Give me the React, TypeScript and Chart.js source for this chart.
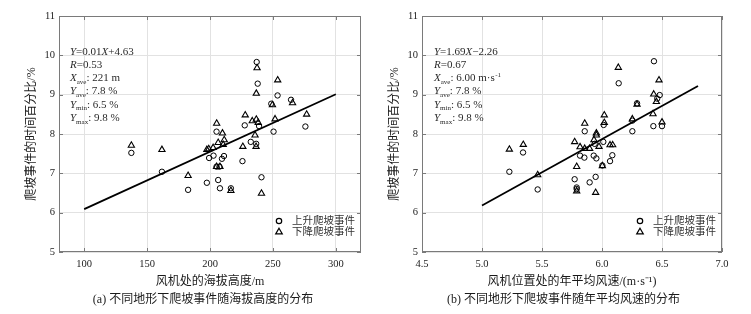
import React, { useEffect, useRef } from 'react';
import { Chart, registerables } from 'chart.js';

Chart.register(...registerables);

const FONT = '"Liberation Serif", "Times New Roman", "Noto Sans CJK SC", serif';

// ---------- Panel (a): altitude ----------
const altTicks = [100, 150, 200, 250, 300];
const altUpX = [237.1, 237.9, 253.7, 264.4, 248.7, 227.6, 239.0, 275.8, 250.5, 205.2, 232.4, 236.7, 137.5, 199.3, 202.8, 209.5, 211.1, 225.8, 161.8, 205.2, 207.5, 240.9, 197.5, 206.5, 207.9, 182.6, 216.6];
const altUpY = [9.83, 9.28, 8.98, 8.87, 8.77, 8.22, 8.2, 8.19, 8.06, 8.06, 7.8, 7.75, 7.52, 7.39, 7.45, 7.37, 7.44, 7.31, 7.04, 7.17, 7.17, 6.9, 6.76, 6.83, 6.62, 6.58, 6.62];
const altDownX = [237.4, 253.8, 236.8, 265.6, 249.6, 228.0, 276.8, 251.7, 205.3, 233.6, 236.8, 238.3, 235.8, 209.9, 137.5, 161.8, 226.1, 236.6, 202.5, 197.5, 199.0, 206.5, 210.5, 211.3, 182.6, 205.2, 207.9, 216.6, 240.9];
const altDownY = [9.68, 9.37, 9.03, 8.79, 8.74, 8.48, 8.5, 8.38, 8.27, 8.33, 8.37, 8.29, 7.97, 8.02, 7.71, 7.6, 7.68, 7.68, 7.65, 7.6, 7.62, 7.78, 7.73, 7.85, 6.94, 7.17, 7.17, 6.56, 6.49];
const altFitX = [100, 300];
const altFitY = [6.09, 9.01];

// ---------- Panel (b): wind speed ----------
const spdTicks = [4.5, 5.0, 5.5, 6.0, 6.5, 7.0];
const spdUpX = [6.433, 6.139, 6.481, 6.46, 6.292, 6.253, 6.014, 6.428, 6.5, 6.253, 5.856, 6.011, 5.939, 5.342, 5.817, 5.931, 5.853, 5.953, 6.086, 6.067, 5.228, 6.003, 5.947, 5.772, 5.897, 5.464, 5.789, 5.789];
const spdUpY = [9.85, 9.29, 8.99, 8.9, 8.78, 8.34, 8.23, 8.2, 8.2, 8.07, 8.07, 7.8, 7.75, 7.53, 7.45, 7.45, 7.4, 7.38, 7.46, 7.31, 7.04, 7.2, 6.91, 6.85, 6.77, 6.59, 6.64, 6.6];
const spdDownX = [6.136, 6.475, 6.431, 6.453, 6.292, 6.019, 6.425, 6.019, 6.5, 5.856, 6.253, 5.953, 5.953, 5.772, 5.344, 5.228, 5.817, 5.856, 5.897, 5.933, 5.975, 6.067, 6.089, 5.464, 5.789, 6.003, 5.789, 5.947];
const spdDownY = [9.69, 9.37, 9.01, 8.82, 8.75, 8.48, 8.51, 8.29, 8.3, 8.27, 8.38, 8.02, 7.97, 7.8, 7.73, 7.61, 7.67, 7.63, 7.63, 7.85, 7.68, 7.72, 7.72, 6.96, 7.17, 7.19, 6.55, 6.51];
const spdFitX = [5.0, 6.8];
const spdFitY = [6.18, 9.22];

const yTicks = [5, 6, 7, 8, 9, 10, 11];
const legendLabels = ['上升爬坡事件', '下降爬坡事件'];
const yTitle = '爬坡事件的时间百分比/%';

type Seg = { t: string; i?: boolean; sub?: string; sup?: string };

const altStats: Seg[][] = [
  [{ t: 'Y', i: true }, { t: '=0.01' }, { t: 'X', i: true }, { t: '+4.63' }],
  [{ t: 'R', i: true }, { t: '=0.53' }],
  [{ t: 'X', i: true, sub: 'ave' }, { t: ': 221 m' }],
  [{ t: 'Y', i: true, sub: 'ave' }, { t: ': 7.8 %' }],
  [{ t: 'Y', i: true, sub: 'min' }, { t: ': 6.5 %' }],
  [{ t: 'Y', i: true, sub: 'max' }, { t: ': 9.8 %' }],
];
const spdStats: Seg[][] = [
  [{ t: 'Y', i: true }, { t: '=1.69' }, { t: 'X', i: true }, { t: '\u22122.26' }],
  [{ t: 'R', i: true }, { t: '=0.67' }],
  [{ t: 'X', i: true, sub: 'ave' }, { t: ': 6.00 m·s', sup: '-1' }],
  [{ t: 'Y', i: true, sub: 'ave' }, { t: ': 7.8 %' }],
  [{ t: 'Y', i: true, sub: 'min' }, { t: ': 6.5 %' }],
  [{ t: 'Y', i: true, sub: 'max' }, { t: ': 9.8 %' }],
];

type Panel = {
  upX: number[]; upY: number[]; downX: number[]; downY: number[];
  fitX: number[]; fitY: number[];
  xTicks: number[]; xMin: number; xMax: number; decimals: number;
  xTitle: string; caption: string; stats: Seg[][];
  yAxisWidth: number; padRight: number; yTitlePad: number; captionShift: number; statsDx: number;
};

const panelA: Panel = {
  upX: altUpX, upY: altUpY, downX: altDownX, downY: altDownY,
  fitX: altFitX, fitY: altFitY,
  xTicks: altTicks, xMin: 80, xMax: 320, decimals: 0,
  xTitle: '风机处的海拔高度/m',
  caption: '(a) 不同地形下爬坡事件随海拔高度的分布',
  stats: altStats,
  yAxisWidth: 59, padRight: 14, yTitlePad: 24.5, captionShift: -7, statsDx: 11,
};
const panelB: Panel = {
  upX: spdUpX, upY: spdUpY, downX: spdDownX, downY: spdDownY,
  fitX: spdFitX, fitY: spdFitY,
  xTicks: spdTicks, xMin: 4.5, xMax: 7.0, decimals: 1,
  xTitle: '风机位置处的年平均风速/(m·s\u207B\u00B9)',
  caption: '(b) 不同地形下爬坡事件随年平均风速的分布',
  stats: spdStats,
  yAxisWidth: 47, padRight: 29, yTitlePad: 12.8, captionShift: -8.5, statsDx: 12,
};

const zip = (xs: number[], ys: number[]) => xs.map((x, i) => ({ x, y: ys[i] }));

function drawMarker(ctx: CanvasRenderingContext2D, kind: string, x: number, y: number) {
  ctx.beginPath();
  if (kind === 'circle') {
    ctx.arc(x, y, 2.7, 0, Math.PI * 2);
  } else {
    const r = 3.8;
    ctx.moveTo(x, y - r);
    ctx.lineTo(x + r * Math.sin((2 * Math.PI) / 3), y - r * Math.cos((2 * Math.PI) / 3));
    ctx.lineTo(x + r * Math.sin((4 * Math.PI) / 3), y - r * Math.cos((4 * Math.PI) / 3));
    ctx.closePath();
  }
  ctx.stroke();
}

function makeDecor(p: Panel) {
  return {
    id: 'decor',
    afterDraw(chart: any) {
      const { ctx, chartArea: a, scales } = chart;
      ctx.save();
      // box
      ctx.strokeStyle = '#7a7a7a';
      ctx.lineWidth = 1;
      ctx.strokeRect(Math.round(a.left) + 0.5, Math.round(a.top) + 0.5, Math.round(a.right - a.left) - 1, Math.round(a.bottom - a.top) - 1);
      // inner ticks
      ctx.beginPath();
      scales.x.ticks.forEach((t: any) => {
        const px = Math.round(scales.x.getPixelForValue(t.value)) + 0.5;
        ctx.moveTo(px, a.bottom); ctx.lineTo(px, a.bottom - 4);
        ctx.moveTo(px, a.top); ctx.lineTo(px, a.top + 4);
      });
      scales.y.ticks.forEach((t: any) => {
        const py = Math.round(scales.y.getPixelForValue(t.value)) + 0.5;
        ctx.moveTo(a.left, py); ctx.lineTo(a.left + 4, py);
        ctx.moveTo(a.right, py); ctx.lineTo(a.right - 4, py);
      });
      ctx.stroke();

      // stats annotation
      ctx.fillStyle = '#2a2a2a';
      ctx.textBaseline = 'alphabetic';
      ctx.textAlign = 'left';
      p.stats.forEach((line, li) => {
        let x = a.left + p.statsDx;
        const y = a.top + 38.5 + li * 13.3;
        line.forEach((s) => {
          ctx.font = `${s.i ? 'italic ' : ''}11px ${FONT}`;
          ctx.fillText(s.t, x, y);
          x += ctx.measureText(s.t).width;
          if (s.sub) {
            ctx.font = `7px ${FONT}`;
            ctx.fillText(s.sub, x, y + 2.5);
            x += ctx.measureText(s.sub).width;
          }
          if (s.sup) {
            ctx.font = `7px ${FONT}`;
            ctx.fillText(s.sup, x + 0.5, y - 4);
            x += ctx.measureText(s.sup).width;
          }
        });
      });

      // legend
      ctx.strokeStyle = '#000';
      ctx.lineWidth = 1.2;
      const lx = a.right - 82;
      const tx = a.right - 69;
      ['circle', 'triangle'].forEach((k, i) => {
        const y = a.bottom - 31 + i * 11;
        drawMarker(ctx, k, lx, y);
        ctx.font = `10.5px ${FONT}`;
        ctx.fillStyle = '#333';
        ctx.textBaseline = 'middle';
        ctx.fillText(legendLabels[i], tx, y);
      });

      // caption
      ctx.font = `12px ${FONT}`;
      ctx.fillStyle = '#1a1a1a';
      ctx.textAlign = 'center';
      ctx.textBaseline = 'middle';
      ctx.fillText(p.caption, (a.left + a.right) / 2 + p.captionShift, 300);
      ctx.restore();
    },
  };
}

function makeConfig(p: Panel): any {
  const tickFont = { family: FONT, size: 10.5 };
  const titleFont = { family: FONT, size: 12 };
  return {
    type: 'scatter',
    data: {
      datasets: [
        {
          label: legendLabels[0],
          data: zip(p.upX, p.upY),
          pointStyle: 'circle',
          pointRadius: 2.7,
          borderColor: '#000',
          backgroundColor: 'rgba(0,0,0,0)',
          borderWidth: 1,
        },
        {
          label: legendLabels[1],
          data: zip(p.downX, p.downY),
          pointStyle: 'triangle',
          pointRadius: 3.6,
          borderColor: '#000',
          backgroundColor: 'rgba(0,0,0,0)',
          borderWidth: 1.1,
        },
        {
          label: 'fit',
          data: zip(p.fitX, p.fitY),
          showLine: true,
          pointRadius: 0,
          borderColor: '#000',
          borderWidth: 1.8,
          fill: false,
        },
      ],
    },
    options: {
      animation: false,
      responsive: false,
      maintainAspectRatio: false,
      events: [],
      layout: { padding: { left: 0, right: p.padRight, top: 16, bottom: 18 } },
      plugins: { legend: { display: false }, tooltip: { enabled: false }, title: { display: false } },
      scales: {
        x: {
          type: 'linear',
          min: p.xMin,
          max: p.xMax,
          afterBuildTicks: (s: any) => { s.ticks = p.xTicks.map((v) => ({ value: v })); },
          afterFit: (s: any) => { s.height = 44; },
          ticks: {
            font: tickFont,
            color: '#222',
            padding: 6,
            maxRotation: 0,
            autoSkip: false,
            callback: (v: any) => Number(v).toFixed(p.decimals),
          },
          grid: { color: '#e2e2e2', lineWidth: 1, drawTicks: false },
          border: { display: false },
          title: { display: true, text: p.xTitle, font: titleFont, color: '#1a1a1a', padding: { top: 0, bottom: 7 } },
        },
        y: {
          type: 'linear',
          min: 5,
          max: 11,
          afterBuildTicks: (s: any) => { s.ticks = yTicks.map((v) => ({ value: v })); },
          afterFit: (s: any) => { s.width = p.yAxisWidth; },
          ticks: { font: tickFont, color: '#222', padding: 4 },
          grid: { color: '#e2e2e2', lineWidth: 1, drawTicks: false },
          border: { display: false },
          title: { display: true, text: yTitle, font: titleFont, color: '#1a1a1a', padding: { top: p.yTitlePad, bottom: 0 } },
        },
      },
    },
    plugins: [makeDecor(p)],
  };
}

function ChartPanel({ panel, width, left }: { panel: Panel; width: number; left: number }) {
  const ref = useRef<HTMLCanvasElement | null>(null);
  useEffect(() => {
    if (!ref.current) return;
    const chart = new Chart(ref.current, makeConfig(panel));
    return () => chart.destroy();
  }, [panel]);
  return (
    <canvas
      ref={ref}
      width={width}
      height={314}
      style={{ position: 'absolute', left, top: 0, width, height: 314 }}
    />
  );
}

export default function App() {
  return (
    <div style={{ position: 'absolute', left: 0, top: 0, width: 751, height: 314, background: '#fff', overflow: 'hidden' }}>
      <ChartPanel panel={panelA} width={375} left={0} />
      <ChartPanel panel={panelB} width={376} left={375} />
    </div>
  );
}
